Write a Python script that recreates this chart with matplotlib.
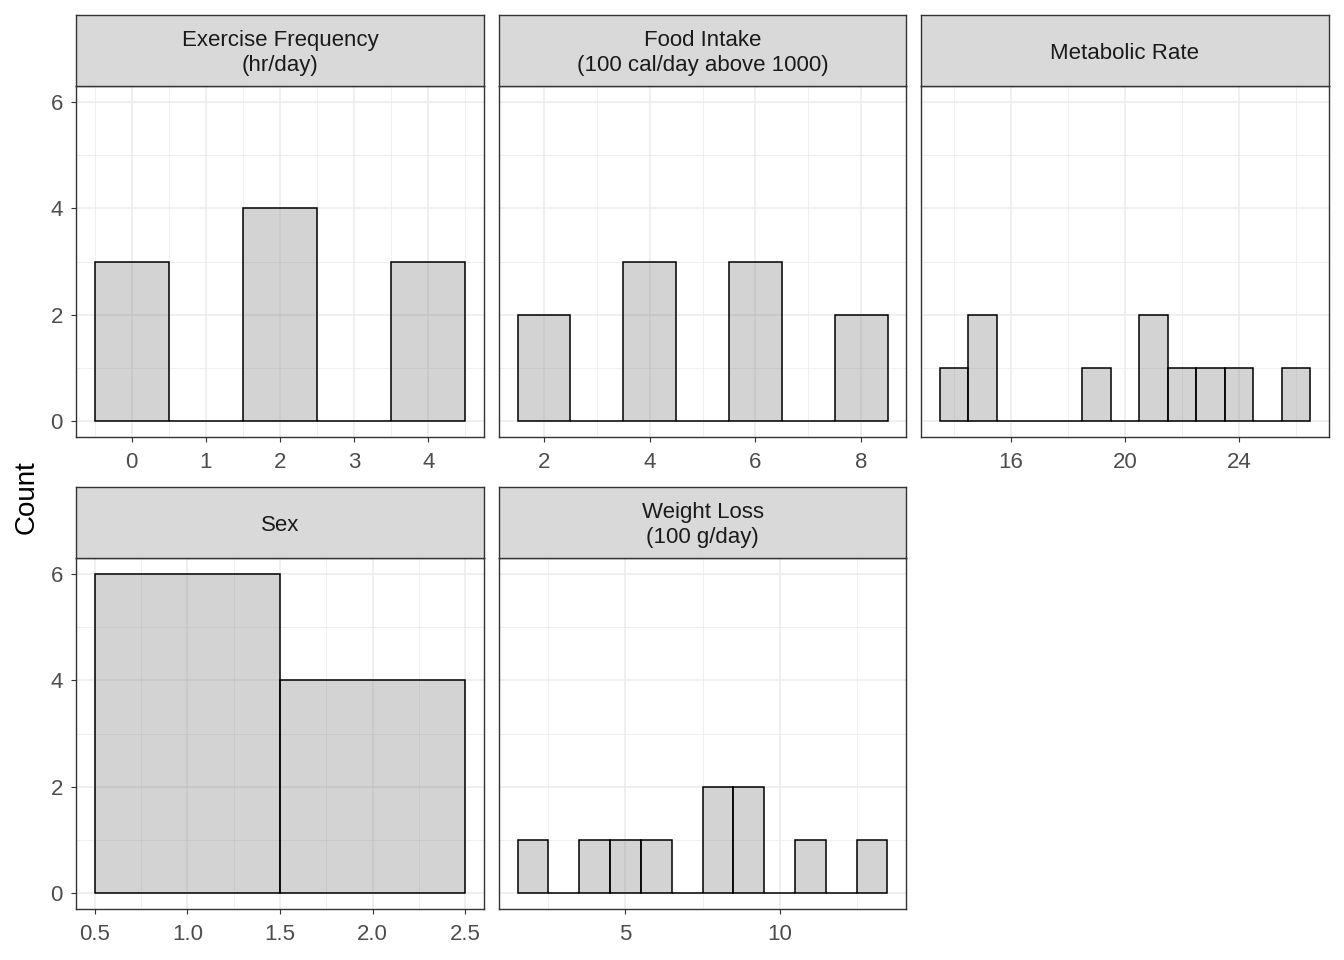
import numpy as np
import matplotlib
matplotlib.use("Agg")
import matplotlib.pyplot as plt

plt.rcParams['font.family'] = ['Liberation Sans', 'DejaVu Sans']

# Panel titles (strip labels)
titles = [
    "Exercise Frequency\n(hr/day)",
    "Food Intake\n(100 cal/day above 1000)",
    "Metabolic Rate",
    "Sex",
    "Weight Loss\n(100 g/day)",
]

# Histogram bins (left edges) and counts per panel, bin width = 1
exercise_bins = [-0.5, 0.5, 1.5, 2.5, 3.5]
exercise_counts = [3, 0, 4, 0, 3]

food_bins = [1.5, 2.5, 3.5, 4.5, 5.5, 6.5, 7.5]
food_counts = [2, 0, 3, 0, 3, 0, 2]

metabolic_bins = [13.5, 14.5, 15.5, 16.5, 17.5, 18.5, 19.5, 20.5, 21.5, 22.5, 23.5, 24.5, 25.5]
metabolic_counts = [1, 2, 0, 0, 0, 1, 0, 2, 1, 1, 1, 0, 1]

sex_bins = [0.5, 1.5]
sex_counts = [6, 4]

weight_bins = [1.5, 2.5, 3.5, 4.5, 5.5, 6.5, 7.5, 8.5, 9.5, 10.5, 11.5, 12.5]
weight_counts = [1, 0, 1, 1, 1, 0, 2, 2, 0, 1, 0, 1]

bins_list = [exercise_bins, food_bins, metabolic_bins, sex_bins, weight_bins]
counts_list = [exercise_counts, food_counts, metabolic_counts, sex_counts, weight_counts]
bin_width = [1, 1, 1, 1, 1]

# Tick labels
major_ticks = [
    [0, 1, 2, 3, 4],
    [2, 4, 6, 8],
    [16, 20, 24],
    [0.5, 1.0, 1.5, 2.0, 2.5],
    [5, 10],
]
tick_labels = [
    ["0", "1", "2", "3", "4"],
    ["2", "4", "6", "8"],
    ["16", "20", "24"],
    ["0.5", "1.0", "1.5", "2.0", "2.5"],
    ["5", "10"],
]
minor_ticks = [
    [-0.5, 0.5, 1.5, 2.5, 3.5, 4.5],
    [3, 5, 7],
    [14, 18, 22, 26],
    [0.75, 1.25, 1.75, 2.25],
    [2.5, 7.5, 12.5],
]
y_major = [0, 2, 4, 6]
y_minor = [1, 3, 5]

W, H = 1344, 960
fig = plt.figure(figsize=(W / 100, H / 100), dpi=100)

cols = [(76, 484), (499, 906), (921, 1329)]
rows = [(15, 86, 437), (487, 558, 909)]  # strip top, panel top, panel bottom


def fig_rect(x0, x1, y0, y1):
    return [x0 / W, 1 - y1 / H, (x1 - x0) / W, (y1 - y0) / H]


fill = (0.5, 0.5, 0.5, 0.34)
border = "#333333"

for i in range(5):
    r, c = divmod(i, 3)
    x0, x1 = cols[c]
    st, pt, pb = rows[r]

    ax = fig.add_axes(fig_rect(x0, x1, pt, pb))
    edges = np.array(bins_list[i], dtype=float)
    counts = np.array(counts_list[i])
    ax.bar(edges, counts, width=bin_width[i], align='edge',
           facecolor=fill, edgecolor='black', linewidth=1.1, zorder=2)

    lo = edges[0]
    hi = edges[-1] + bin_width[i]
    pad = (hi - lo) * 0.05
    ax.set_xlim(lo - pad, hi + pad)
    ax.set_ylim(-0.3, 6.3)

    ax.set_xticks(major_ticks[i])
    ax.set_xticklabels(tick_labels[i])
    ax.set_xticks(minor_ticks[i], minor=True)
    ax.set_yticks(y_major)
    ax.set_yticks(y_minor, minor=True)

    ax.grid(which='major', color='#EBEBEB', linewidth=1.1, zorder=0)
    ax.grid(which='minor', color='#EBEBEB', linewidth=0.55, zorder=0)
    ax.set_axisbelow(True)

    for s in ax.spines.values():
        s.set_color(border)
        s.set_linewidth(1.0)

    ax.tick_params(which='major', length=3.5, width=0.8, color=border,
                   labelsize=16, labelcolor='#4D4D4D', pad=4)
    ax.tick_params(axis='x', which='major', pad=7.5)
    ax.tick_params(axis='y', which='major', pad=6)
    ax.tick_params(which='minor', length=0)
    if c != 0:
        ax.tick_params(axis='y', which='major', length=0, labelleft=False)

    # strip
    sax = fig.add_axes(fig_rect(x0, x1, st, pt))
    sax.set_facecolor('#D9D9D9')
    sax.set_xticks([])
    sax.set_yticks([])
    for s in sax.spines.values():
        s.set_color(border)
        s.set_linewidth(1.0)
    sax.text(0.5, 0.46, titles[i], ha='center', va='center', fontsize=16,
             color='#1A1A1A', linespacing=1.25, transform=sax.transAxes)

fig.text(27 / W, 1 - 497 / H, "Count", rotation=90, ha='center', va='center',
         fontsize=20, color='black')

fig.savefig("out.png", dpi=100)
